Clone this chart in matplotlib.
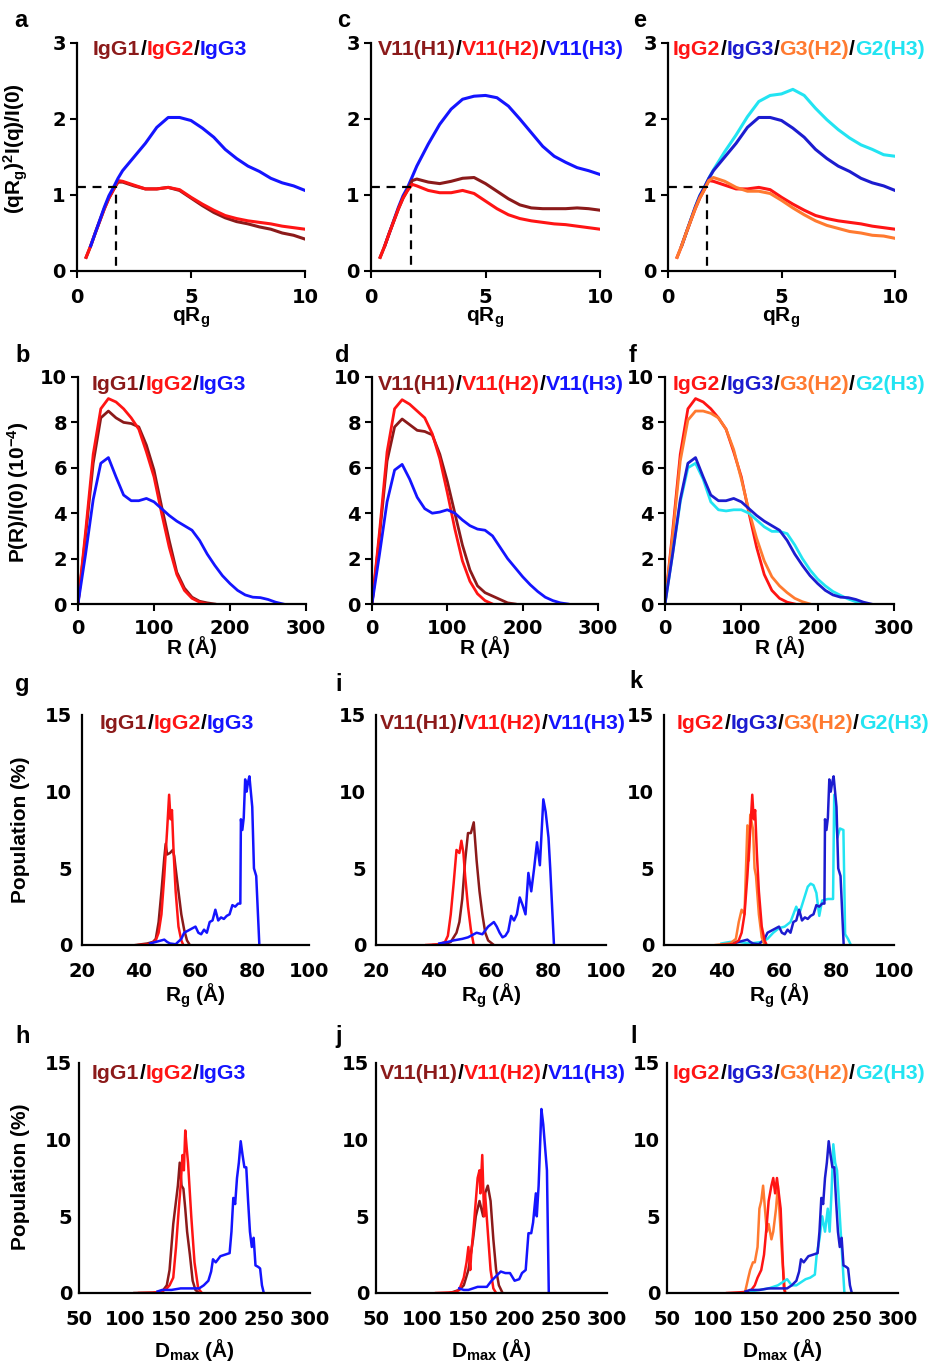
import numpy as np
import matplotlib
matplotlib.use('Agg')
import matplotlib.pyplot as plt

plt.rcParams['font.family'] = ['Liberation Sans', 'DejaVu Sans']
plt.rcParams['font.weight'] = 'bold'
plt.rcParams['axes.labelweight'] = 'bold'
plt.rcParams['mathtext.fontset'] = 'custom'
plt.rcParams['mathtext.rm'] = 'Liberation Sans:bold'
plt.rcParams['mathtext.it'] = 'Liberation Sans:bold'
plt.rcParams['mathtext.bf'] = 'Liberation Sans:bold'

nan = np.nan

# ---- Kratky plots (a, c, e) ----
kr_q = [0.4, 0.6, 0.8, 1.0, 1.2, 1.4, 1.6, 1.8, 2.0, 2.5, 3.0, 3.5, 4.0, 4.5, 5.0,
        5.5, 6.0, 6.5, 7.0, 7.5, 8.0, 8.5, 9.0, 9.5, 10.0]
kr_igg1 = [0.18, 0.33, 0.50, 0.66, 0.82, 0.96, 1.07, 1.17, 1.17, 1.12, 1.08, 1.08, 1.10,
           1.06, 0.96, 0.86, 0.77, 0.70, 0.65, 0.62, 0.58, 0.55, 0.50, 0.47, 0.42]
kr_igg2 = [0.18, 0.33, 0.50, 0.66, 0.82, 0.96, 1.07, 1.19, 1.18, 1.13, 1.08, 1.08, 1.10,
           1.07, 0.97, 0.88, 0.80, 0.73, 0.69, 0.66, 0.64, 0.62, 0.59, 0.57, 0.55]
kr_igg3 = [nan, 0.33, 0.50, 0.67, 0.84, 0.99, 1.10, 1.22, 1.32, 1.50, 1.68, 1.89, 2.02,
           2.02, 1.98, 1.88, 1.76, 1.60, 1.48, 1.38, 1.31, 1.22, 1.16, 1.12, 1.06]
kr_v11h1 = [0.18, 0.33, 0.50, 0.66, 0.82, 0.96, 1.07, 1.19, 1.21, 1.17, 1.15, 1.18, 1.22,
            1.23, 1.15, 1.05, 0.95, 0.87, 0.83, 0.82, 0.82, 0.82, 0.83, 0.82, 0.80]
kr_v11h2 = [0.18, 0.33, 0.50, 0.66, 0.82, 0.96, 1.06, 1.14, 1.12, 1.06, 1.03, 1.03, 1.06,
            1.02, 0.92, 0.82, 0.74, 0.69, 0.66, 0.64, 0.62, 0.61, 0.59, 0.57, 0.55]
kr_v11h3 = [nan, 0.33, 0.50, 0.67, 0.84, 0.99, 1.10, 1.24, 1.38, 1.67, 1.93, 2.13, 2.26,
            2.30, 2.31, 2.28, 2.17, 2.00, 1.82, 1.64, 1.51, 1.43, 1.36, 1.32, 1.27]
kr_g3h2 = [0.18, 0.33, 0.50, 0.66, 0.82, 0.96, 1.07, 1.19, 1.23, 1.18, 1.10, 1.05, 1.05,
           1.02, 0.93, 0.83, 0.74, 0.66, 0.60, 0.56, 0.52, 0.50, 0.47, 0.46, 0.43]
kr_g2h3 = [nan, 0.33, 0.50, 0.67, 0.84, 0.99, 1.10, 1.22, 1.33, 1.57, 1.79, 2.03, 2.23,
           2.31, 2.33, 2.39, 2.31, 2.14, 1.99, 1.86, 1.75, 1.66, 1.60, 1.53, 1.51]
guinier_q = 1.73
guinier_y = 1.1

# ---- P(R) distributions (b, d, f) ----
pr_r = [0, 10, 20, 30, 40, 50, 60, 70, 80, 90, 100, 110, 120, 130, 140, 150, 160, 170,
        180, 190, 200, 210, 220, 230, 240, 250, 260, 270]
pr_igg1 = [0, 3.0, 6.2, 8.2, 8.5, 8.2, 8.0, 7.95, 7.8, 7.0, 5.9, 4.3, 2.8, 1.4, 0.7, 0.3,
           0.12, 0.05, 0]
pr_igg2 = [0, 3.2, 6.6, 8.6, 9.05, 8.9, 8.6, 8.2, 7.7, 6.7, 5.6, 4.0, 2.5, 1.3, 0.6, 0.25,
           0.08, 0]
pr_igg3 = [0, 2.2, 4.6, 6.2, 6.45, 5.6, 4.8, 4.55, 4.55, 4.65, 4.5, 4.2, 3.9, 3.65, 3.45,
           3.25, 2.8, 2.2, 1.7, 1.25, 0.9, 0.6, 0.4, 0.3, 0.28, 0.2, 0.08, 0]
pr_v11h1 = [0, 3.0, 6.3, 7.8, 8.15, 7.9, 7.65, 7.6, 7.45, 6.6, 5.4, 4.0, 2.6, 1.5, 0.8,
            0.5, 0.35, 0.2, 0.05, 0]
pr_v11h2 = [0, 3.2, 6.7, 8.6, 9.0, 8.8, 8.5, 8.2, 7.5, 6.4, 4.9, 3.3, 1.9, 1.0, 0.45,
            0.15, 0]
pr_v11h3 = [0, 2.2, 4.5, 5.9, 6.15, 5.5, 4.7, 4.2, 4.0, 4.05, 4.15, 4.0, 3.7, 3.45, 3.3,
            3.25, 3.0, 2.5, 2.0, 1.6, 1.2, 0.85, 0.55, 0.3, 0.15, 0.05, 0]
pr_g3h2 = [0, 3.0, 6.3, 8.1, 8.5, 8.5, 8.4, 8.2, 7.7, 6.8, 5.5, 4.1, 2.9, 1.9, 1.2, 0.8,
           0.5, 0.25, 0.1, 0]
pr_g2h3 = [0, 2.2, 4.5, 6.0, 6.2, 5.5, 4.5, 4.15, 4.1, 4.15, 4.15, 4.0, 3.7, 3.4, 3.2,
           3.2, 3.1, 2.6, 2.0, 1.5, 1.1, 0.8, 0.55, 0.38, 0.22, 0.1, 0]

# ---- Rg populations (g, i, k) ----
rg_igg1_x = [39, 43, 45, 46, 47, 48, 49, 49.5, 50, 51, 52, 52.5, 53, 54, 55, 56, 57, 58]
rg_igg1_y = [0, 0.1, 0.2, 0.4, 1.5, 3.5, 5.7, 6.6, 5.9, 6.0, 6.2, 5.8, 5.0, 3.5, 2.0, 1.0, 0.3, 0]
rg_igg2_x = [40, 44, 46, 47, 48, 49, 50, 50.7, 51.2, 51.7, 52.3, 53, 54, 55, 55.7]
rg_igg2_y = [0, 0.05, 0.3, 0.8, 2.0, 4.5, 7.5, 9.8, 8.2, 8.8, 6.0, 3.5, 1.2, 0.3, 0]
rg_igg3_x = [44, 46, 48, 49, 50, 51, 53, 55, 56, 57, 58, 60, 61, 62, 63, 64, 65, 66, 67, 68,
             69, 70, 71, 72, 73, 74, 75, 75.8, 76, 76.5, 77, 77.5, 78, 78.5, 79, 79.5, 80,
             80.6, 81.4, 82.5]
rg_igg3_y = [0.1, 0.2, 0.3, 0.35, 0.2, 0.1, 0.05, 0.4, 0.8, 0.9, 1.0, 1.2, 0.8, 0.7, 1.0,
             0.8, 1.5, 1.6, 2.3, 1.6, 1.8, 1.7, 1.9, 2.0, 2.6, 2.5, 2.7, 2.7, 8.2, 7.5, 8.3,
             10.8, 10.0, 10.6, 11.0, 10.0, 9.0, 5.0, 4.5, 0]
rg_h1_x = [40, 44, 46, 48, 49, 50, 51, 52, 53, 54, 55, 56, 57, 58, 59, 61]
rg_h1_y = [0, 0.05, 0.2, 0.8, 1.5, 3.0, 5.5, 7.3, 7.3, 8.0, 5.5, 3.5, 2.0, 0.8, 0.3, 0]
rg_h2_x = [37.5, 42, 44, 45, 46, 47, 48, 49, 49.7, 50.4, 51, 52, 53, 54]
rg_h2_y = [0, 0.05, 0.2, 0.6, 2.0, 4.0, 6.2, 6.0, 6.8, 6.0, 4.5, 2.5, 1.0, 0]
rg_h3_x = [42, 45, 47, 50, 52, 55, 57, 59, 61, 62, 63, 64, 65, 66, 67, 68, 69, 70, 71, 72,
           73, 74, 75, 76, 77, 78.2, 79, 80, 80.6, 81.9]
rg_h3_y = [0.1, 0.2, 0.3, 0.4, 0.5, 0.8, 0.7, 1.2, 1.5, 1.2, 0.8, 0.5, 0.6, 0.9, 1.9, 1.6,
           2.0, 3.1, 2.6, 2.0, 4.7, 3.5, 5.0, 6.7, 5.2, 9.5, 8.7, 7.0, 5.0, 0]
rg_g3h2_x = [38, 43, 45, 46, 47, 48, 49, 49.5, 50, 51, 51.5, 52, 53, 54, 55]
rg_g3h2_y = [0, 0.1, 0.4, 1.5, 2.3, 2.0, 7.8, 5.5, 8.5, 7.5, 5.0, 4.5, 2.0, 0.5, 0]
rg_g2h3_x = [40, 43, 46, 50, 54, 56, 58, 60, 62, 64, 66, 67, 69, 70, 71, 72, 73, 74, 75, 77,
             78.8, 79.2, 80.3, 81.2, 82.4, 83, 84, 85]
rg_g2h3_y = [0.1, 0.2, 0.2, 0.1, 0.2, 0.4, 0.8, 1.1, 1.2, 1.5, 2.5, 2.0, 3.2, 3.8, 4.0, 3.9,
             3.4, 1.9, 2.9, 3.0, 3.0, 9.8, 7.0, 7.6, 7.5, 0.7, 0.4, 0]

# ---- Dmax populations (h, j, l) ----
dm_igg1_x = [110, 130, 140, 145, 148, 150, 152, 155, 157, 159, 161, 163, 165, 167, 170, 173, 176, 180]
dm_igg1_y = [0, 0.02, 0.1, 0.5, 1.5, 3.0, 4.5, 6.0, 7.0, 8.5, 7.0, 6.8, 5.5, 4.0, 2.5, 0.8, 0.2, 0]
dm_igg2_x = [115, 130, 140, 145, 148, 152, 155, 158, 160, 162, 163.5, 165, 166.5, 168, 171.5,
             175, 179, 183]
dm_igg2_y = [0, 0.02, 0.1, 0.3, 0.5, 1.0, 3.0, 5.5, 7.0, 9.0, 8.0, 10.6, 9.5, 8.5, 5.0, 2.0, 0.3, 0]
dm_igg3_x = [135, 140, 150, 160, 170, 180, 185, 190, 193, 195, 198, 203, 208, 213, 215, 217,
             219, 221, 223, 225, 227, 229, 231, 233, 235, 237, 239, 241, 244, 246, 248, 250]
dm_igg3_y = [0.1, 0.2, 0.2, 0.3, 0.3, 0.3, 0.5, 0.8, 1.4, 2.2, 2.0, 2.4, 2.5, 2.6, 4.0, 6.2,
             5.8, 7.5, 8.5, 9.9, 9.0, 8.2, 8.2, 6.0, 4.0, 3.0, 3.6, 1.8, 1.7, 1.6, 0.5, 0]
dm_h1_x = [130, 140, 145, 150, 155, 158, 162, 164, 166, 168, 171, 174, 177, 180, 183, 187]
dm_h1_y = [0, 0.2, 0.5, 1.5, 3.5, 5.0, 6.0, 5.5, 5.0, 6.5, 7.0, 6.0, 3.5, 1.5, 0.5, 0]
dm_h2_x = [115, 135, 140, 145, 148, 150, 152, 153, 156, 160, 162, 163, 165, 167, 168, 171,
           174, 177, 180]
dm_h2_y = [0, 0.05, 0.2, 1.0, 2.0, 3.0, 1.5, 2.5, 4.5, 7.5, 8.0, 6.5, 9.0, 5.0, 6.5, 4.0,
           1.5, 0.3, 0]
dm_h3_x = [140, 145, 150, 160, 170, 175, 180, 185, 190, 195, 200, 205, 208, 212, 215, 218,
           220, 223, 224, 226, 229, 231, 233, 235, 237]
dm_h3_y = [0.3, 0.2, 0.2, 0.4, 0.4, 0.8, 1.1, 1.4, 1.3, 1.3, 0.8, 0.9, 1.3, 1.5, 3.9, 3.9,
           4.6, 6.5, 5.0, 7.0, 12.0, 11.0, 9.5, 8.0, 0]
dm_igg2l_x = [115, 130, 140, 145, 148, 152, 155, 158, 160, 163, 165, 167, 169, 171, 173, 175,
              176.5, 178]
dm_igg2l_y = [0, 0.05, 0.1, 0.5, 1.0, 1.5, 2.5, 4.5, 6.0, 7.0, 7.5, 6.5, 7.5, 6.5, 5.5, 2.5, 0.3, 0]
dm_g3h2_x = [135, 138, 140, 143, 145, 148, 150, 152, 154, 156, 158, 160, 163, 165, 168, 170,
             172, 175, 178]
dm_g3h2_y = [0.2, 1.0, 1.5, 2.0, 2.0, 3.0, 5.5, 6.0, 7.0, 5.5, 4.0, 4.5, 3.5, 4.0, 5.5, 7.0,
             5.0, 2.0, 0]
dm_g2h3_x = [140, 150, 160, 170, 175, 180, 185, 190, 195, 200, 205, 210, 212, 215, 218, 221,
             224, 226, 228, 230, 232, 234, 236, 238, 240, 242]
dm_g2h3_y = [0.1, 0.2, 0.3, 0.5, 0.7, 0.9, 0.5, 0.5, 0.7, 0.9, 1.0, 1.2, 2.5, 3.5, 5.0, 4.0,
             5.5, 4.0, 6.5, 9.7, 8.5, 8.0, 6.0, 4.0, 2.0, 0]

DR = '#8B1A1A'
RD = '#FF1414'
BL = '#1414FF'
NV = '#1C1CCF'
OR = '#FF7A30'
CY = '#22E4F2'

title1 = [('IgG1', DR), ('/', 'k'), ('IgG2', RD), ('/', 'k'), ('IgG3', BL)]
title2 = [('V11(H1)', DR), ('/', 'k'), ('V11(H2)', RD), ('/', 'k'), ('V11(H3)', BL)]
title3 = [('IgG2', RD), ('/', 'k'), ('IgG3', NV), ('/', 'k'), ('G3(H2)', OR), ('/', 'k'),
          ('G2(H3)', CY)]

W, H = 930, 1362
fig = plt.figure(figsize=(W / 100, H / 100), dpi=100)


def add_ax(l, t, r, b):
    return fig.add_axes([l / W, 1 - b / H, (r - l) / W, (b - t) / H])


def style(ax, xlim, ylim, xticks, yticks, ticklen, xpad, ypad):
    ax.set_xlim(xlim)
    ax.set_ylim(ylim)
    ax.set_xticks(xticks)
    ax.set_yticks(yticks)
    for s in ['top', 'right']:
        ax.spines[s].set_visible(False)
    for s in ['left', 'bottom']:
        ax.spines[s].set_linewidth(1.6)
    ax.tick_params(axis='x', length=ticklen, width=1.5, pad=xpad, labelsize=14)
    ax.tick_params(axis='y', length=ticklen, width=1.5, pad=ypad, labelsize=14)
    for lbl in ax.get_xticklabels() + ax.get_yticklabels():
        lbl.set_fontfamily('DejaVu Sans')
    ax.patch.set_alpha(0)


def title(ax, x, y, parts):
    prev = ax.text(x, y, parts[0][0], color=parts[0][1], transform=ax.transAxes,
                   fontsize=15.3, va='baseline', ha='left', clip_on=False)
    for s, c in parts[1:]:
        prev = ax.annotate(s, xy=(1, 0), xycoords=prev, color=c, fontsize=15.3,
                           va='bottom', ha='left', annotation_clip=False)


# ---- row 1: Kratky ----
kr_axes = [add_ax(77, 43, 305, 271), add_ax(371, 43, 600, 271), add_ax(668, 43, 895, 271)]
kr_sets = [[(kr_igg1, DR), (kr_igg2, RD), (kr_igg3, BL)],
           [(kr_v11h3, BL), (kr_v11h1, DR), (kr_v11h2, RD)],
           [(kr_g2h3, CY), (kr_igg3, NV), (kr_igg2, RD), (kr_g3h2, OR)]]
kr_tx = [0.070, 0.031, 0.022]
for ax, curves, tx, tt in zip(kr_axes, kr_sets, kr_tx, [title1, title2, title3]):
    for y, c in curves:
        ax.plot(kr_q, y, color=c, lw=2.2)
    ax.plot([0, guinier_q, guinier_q], [guinier_y, guinier_y, 0], color='k', lw=1.6,
            ls=(0, (4, 3)))
    style(ax, (0, 10), (0, 3), [0, 5, 10], [0, 1, 2, 3], 5, 7, 3)
    ax.set_xlabel('qR$_g$', fontsize=15)
    ax.xaxis.set_label_coords(0.5, -0.15)
    title(ax, tx, 0.947, tt)
kr_axes[0].set_ylabel('(qR$_g$)$^2$I(q)/I(0)', fontsize=15)
kr_axes[0].yaxis.set_label_coords(-0.205, 0.535)

# ---- row 2: P(R) ----
pr_axes = [add_ax(78, 377, 306, 604), add_ax(372, 377, 598, 604), add_ax(665, 377, 894, 604)]
pr_sets = [[(pr_igg1, DR), (pr_igg2, RD), (pr_igg3, BL)],
           [(pr_v11h1, DR), (pr_v11h2, RD), (pr_v11h3, BL)],
           [(pr_igg2, RD), (pr_g3h2, OR), (pr_g2h3, CY), (pr_igg3, NV)]]
pr_tx = [0.061, 0.027, 0.035]
for ax, curves, tx, tt in zip(pr_axes, pr_sets, pr_tx, [title1, title2, title3]):
    for y, c in curves:
        ax.plot(pr_r[:len(y)], y, color=c, lw=2.0)
    style(ax, (0, 300), (0, 10), [0, 100, 200, 300], [0, 2, 4, 6, 8, 10], 5, 6, 3)
    ax.set_xlabel('R (Å)', fontsize=15)
    ax.xaxis.set_label_coords(0.5, -0.14)
    title(ax, tx, 0.943, tt)
pr_axes[0].set_ylabel('P(R)/I(0) (10$^{-4}$)', fontsize=15)
pr_axes[0].yaxis.set_label_coords(-0.205, 0.49)

# ---- row 3: Rg populations ----
rg_axes = [add_ax(82, 715, 309, 945), add_ax(376, 715, 606, 945), add_ax(664, 715, 894, 945)]
rg_sets = [[(rg_igg1_x, rg_igg1_y, DR), (rg_igg2_x, rg_igg2_y, RD), (rg_igg3_x, rg_igg3_y, BL)],
           [(rg_h1_x, rg_h1_y, DR), (rg_h2_x, rg_h2_y, RD), (rg_h3_x, rg_h3_y, BL)],
           [(rg_g2h3_x, rg_g2h3_y, CY), (rg_igg3_x, rg_igg3_y, NV),
            (rg_g3h2_x, rg_g3h2_y, OR), (rg_igg2_x, rg_igg2_y, RD)]]
rg_tx = [0.079, 0.017, 0.057]
for ax, curves, tx, tt in zip(rg_axes, rg_sets, rg_tx, [title1, title2, title3]):
    for x, y, c in curves:
        ax.plot(x, y, color=c, lw=1.8)
    style(ax, (20, 100), (0, 15), [20, 40, 60, 80, 100], [0, 5, 10, 15], 0, 12, 7)
    ax.set_xlabel('R$_g$ (Å)', fontsize=15)
    ax.xaxis.set_label_coords(0.5, -0.16)
    title(ax, tx, 0.939, tt)
rg_axes[0].set_ylabel('Population (%)', fontsize=15)
rg_axes[0].yaxis.set_label_coords(-0.229, 0.5)

# ---- row 4: Dmax populations ----
dm_axes = [add_ax(79, 1063, 310, 1293), add_ax(376, 1063, 607, 1293), add_ax(667, 1063, 898, 1293)]
dm_sets = [[(dm_igg1_x, dm_igg1_y, DR), (dm_igg2_x, dm_igg2_y, RD), (dm_igg3_x, dm_igg3_y, BL)],
           [(dm_h1_x, dm_h1_y, DR), (dm_h2_x, dm_h2_y, RD), (dm_h3_x, dm_h3_y, BL)],
           [(dm_g3h2_x, dm_g3h2_y, OR), (dm_igg2l_x, dm_igg2l_y, RD),
            (dm_g2h3_x, dm_g2h3_y, CY), (dm_igg3_x, dm_igg3_y, NV)]]
dm_tx = [0.056, 0.017, 0.026]
for ax, curves, tx, tt in zip(dm_axes, dm_sets, dm_tx, [title1, title2, title3]):
    for x, y, c in curves:
        ax.plot(x, y, color=c, lw=1.8)
    style(ax, (50, 300), (0, 15), [50, 100, 150, 200, 250, 300], [0, 5, 10, 15], 0, 12, 5)
    ax.set_xlabel('D$_{max}$ (Å)', fontsize=15)
    ax.xaxis.set_label_coords(0.5, -0.19)
    title(ax, tx, 0.930, tt)
dm_axes[0].set_ylabel('Population (%)', fontsize=15)
dm_axes[0].yaxis.set_label_coords(-0.212, 0.504)

# panel letters
letters = [('a', 14, 27), ('c', 337, 27), ('e', 633, 27),
           ('b', 15, 362), ('d', 335, 362), ('f', 629, 362),
           ('g', 15, 691), ('i', 335, 691), ('k', 629, 688),
           ('h', 15, 1043), ('j', 335, 1043), ('l', 630, 1043)]
for s, px, py in letters:
    fig.text(px / W, 1 - py / H, s, fontsize=17, fontweight='bold', va='baseline', ha='left')

fig.savefig('out.png', dpi=100)
